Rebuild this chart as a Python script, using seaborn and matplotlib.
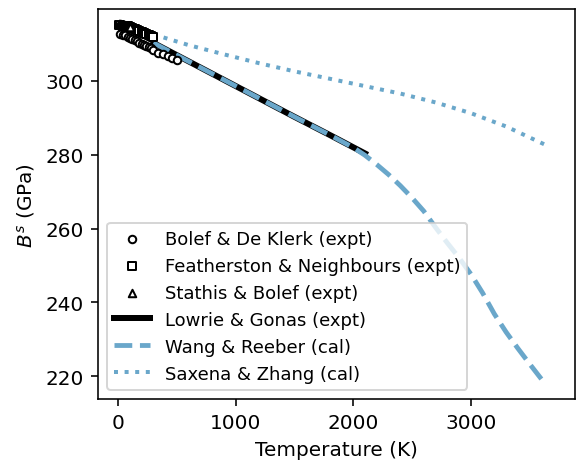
import numpy as np
import pandas as pd
import matplotlib
matplotlib.use("Agg")
import matplotlib.pyplot as plt
import seaborn as sns

# Bolef & De Klerk (expt) - circles
bolef_T = [20, 40, 60, 80, 100, 120, 140, 160, 180, 200, 220, 240, 260, 280, 300,
           340, 380, 420, 460, 500]
bolef_B = [312.6, 312.4, 312.2, 311.9, 311.6, 311.3, 311.0, 310.6, 310.3, 310.0,
           309.7, 309.4, 309.1, 308.7, 308.3, 307.6, 307.1, 306.6, 306.1, 305.6]

# Featherston & Neighbours (expt) - squares
feath_T = [4, 20, 40, 60, 80, 100, 120, 140, 160, 180, 200, 220, 240, 260, 280, 300]
feath_B = [315.0, 315.0, 314.9, 314.8, 314.7, 314.5, 314.3, 314.0, 313.8, 313.5,
           313.2, 312.9, 312.6, 312.3, 312.0, 311.7]

# Stathis & Bolef (expt) - triangles
stathis_T = [4, 10, 15, 20, 25, 30, 35, 40, 45, 50, 55, 60, 65, 70, 75, 80, 85, 90, 95, 100]
stathis_B = [315.2, 315.2, 315.2, 315.2, 315.2, 315.1, 315.1, 315.1, 315.0, 315.0,
             315.0, 314.9, 314.9, 314.9, 314.8, 314.8, 314.8, 314.7, 314.7, 314.6]

# Lowrie & Gonas (expt) - solid line
lowrie_T = [300, 600, 900, 1200, 1500, 1800, 2100]
lowrie_B = [310.2, 305.2, 300.2, 295.2, 290.2, 285.3, 280.3]

# Wang & Reeber (cal) - dashed line
wang_T = [300, 600, 900, 1200, 1500, 1800, 2000, 2100, 2200, 2300, 2400, 2500, 2600,
          2700, 2800, 2900, 3000, 3100, 3200, 3300, 3400, 3500, 3600]
wang_B = [310.2, 305.2, 300.2, 295.2, 290.2, 285.3, 281.9, 279.8, 277.3, 274.6, 271.6,
          268.3, 264.7, 260.3, 256.1, 252.1, 247.7, 242.6, 236.9, 232.0, 227.6, 223.4, 219.3]

# Saxena & Zhang (cal) - dotted line
saxena_T = [300, 600, 900, 1200, 1500, 1800, 2100, 2400, 2700, 3000, 3300, 3650]
saxena_B = [312.5, 309.6, 307.1, 304.7, 302.5, 300.5, 298.5, 296.5, 294.1, 291.2, 287.6, 282.4]

blue = "#6aa7ca"

fig = plt.figure(figsize=(4.0, 3.222), dpi=144)
ax = fig.add_axes([0.170, 0.138, 0.828, 0.840])

sns.lineplot(x=lowrie_T, y=lowrie_B, ax=ax, color="black", lw=3,
             label="Lowrie & Gonas (expt)", sort=False)
sns.lineplot(x=wang_T, y=wang_B, ax=ax, color=blue, lw=2.4, linestyle="--",
             label="Wang & Reeber (cal)", sort=False)
sns.lineplot(x=saxena_T, y=saxena_B, ax=ax, color=blue, lw=2, linestyle=":",
             label="Saxena & Zhang (cal)", sort=False)

sns.scatterplot(x=bolef_T, y=bolef_B, ax=ax, marker="o", s=14, color="white",
                edgecolor="black", linewidth=1, label="Bolef & De Klerk (expt)", zorder=3)
sns.scatterplot(x=feath_T, y=feath_B, ax=ax, marker="s", s=14, color="white",
                edgecolor="black", linewidth=1, label="Featherston & Neighbours (expt)", zorder=3)
sns.scatterplot(x=stathis_T, y=stathis_B, ax=ax, marker="^", s=14, color="white",
                edgecolor="black", linewidth=1, label="Stathis & Bolef (expt)", zorder=3)

handles, labels = ax.get_legend_handles_labels()
order = ["Bolef & De Klerk (expt)", "Featherston & Neighbours (expt)", "Stathis & Bolef (expt)",
         "Lowrie & Gonas (expt)", "Wang & Reeber (cal)", "Saxena & Zhang (cal)"]
hmap = dict(zip(labels, handles))
ax.legend([hmap[l] for l in order], order, loc="lower left", fontsize=9)

ax.set_xlim(-172, 3885)
ax.set_ylim(213.9, 319.3)
ax.set_xticks([0, 1000, 2000, 3000])
ax.set_yticks([220, 240, 260, 280, 300])
ax.set_xlabel("Temperature (K)")
ax.set_ylabel("$B^s$ (GPa)")

fig.savefig("out.png", dpi=144)
